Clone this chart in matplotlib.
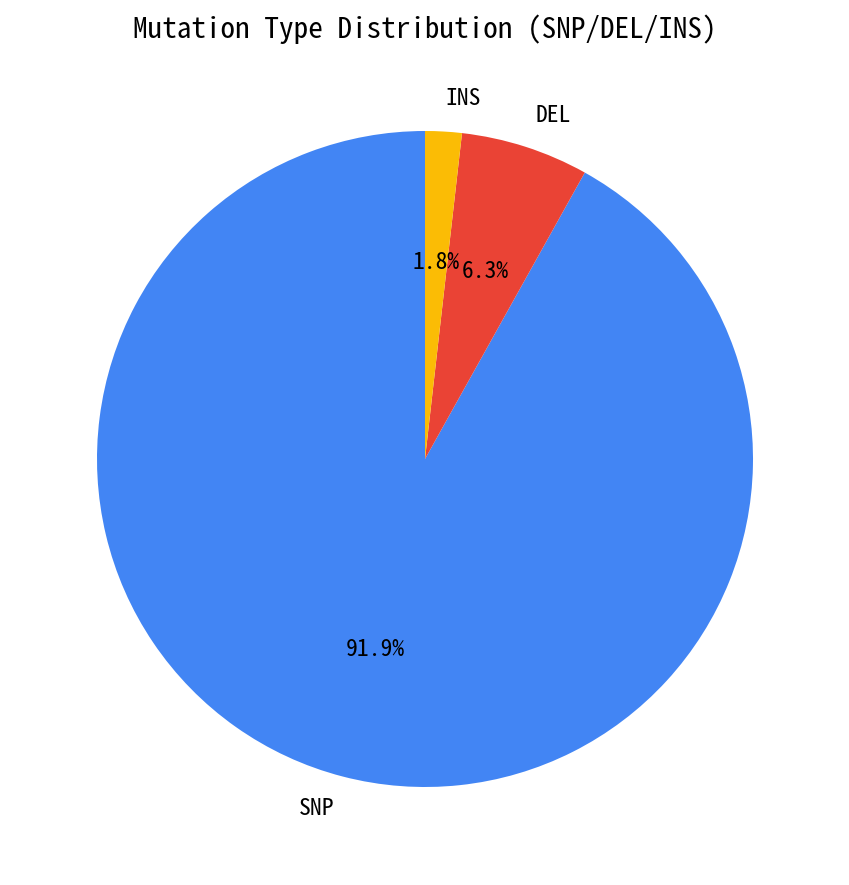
import matplotlib
matplotlib.use("Agg")
import matplotlib.pyplot as plt

labels = ["SNP", "DEL", "INS"]
values = [91.9, 6.3, 1.8]
colors = ["#4285F4", "#EA4335", "#FBBC05"]

plt.rcParams['font.family'] = ['Noto Sans Mono CJK SC', 'DejaVu Sans Mono']

fig = plt.figure(figsize=(8.49, 8.85), dpi=100)
ax = fig.add_axes([15 / 849, 16 / 885, 820 / 849, 820 / 885])
wedges, texts, autotexts = ax.pie(values, labels=labels, colors=colors,
                                  autopct='%1.1f%%', startangle=90,
                                  textprops={'fontsize': 17})
ax.set_xlim(-1.25, 1.25)
ax.set_ylim(-1.25, 1.25)
ax.set_aspect('equal')
ax.set_title("Mutation Type Distribution (SNP/DEL/INS)", fontsize=21, pad=8)
fig.savefig("out.png", dpi=100)
